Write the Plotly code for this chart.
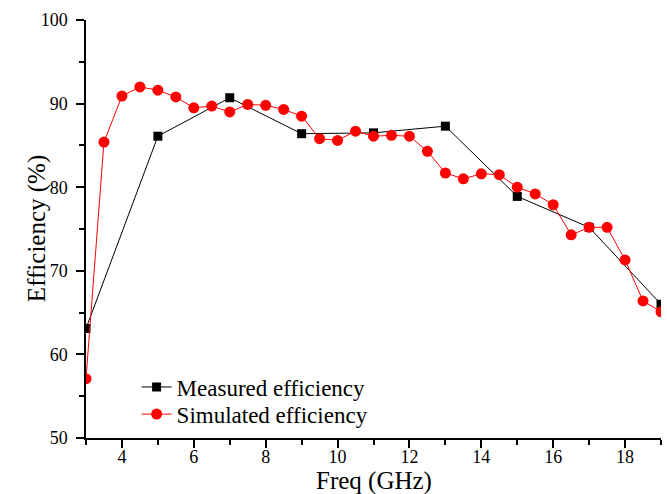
import plotly.graph_objects as go

meas_x = [3, 5, 7, 9, 11, 13, 15, 17, 19]
meas_y = [63.1, 86.1, 90.7, 86.4, 86.5, 87.3, 78.9, 75.2, 66.0]

sim_x = [3, 3.5, 4, 4.5, 5, 5.5, 6, 6.5, 7, 7.5, 8, 8.5, 9, 9.5, 10, 10.5, 11,
         11.5, 12, 12.5, 13, 13.5, 14, 14.5, 15, 15.5, 16, 16.5, 17, 17.5, 18, 18.5, 19]
sim_y = [57.1, 85.4, 90.9, 92.0, 91.6, 90.8, 89.5, 89.7, 89.0, 89.9, 89.8, 89.3, 88.5,
         85.8, 85.6, 86.7, 86.1, 86.2, 86.1, 84.3, 81.7, 81.0, 81.6, 81.5, 80.0, 79.2,
         77.9, 74.3, 75.2, 75.2, 71.3, 66.4, 65.1]

x_ticks = [4, 6, 8, 10, 12, 14, 16, 18]
y_ticks = [50, 60, 70, 80, 90, 100]

font = "Liberation Serif, Times New Roman, serif"

fig = go.Figure()
fig.add_trace(go.Scatter(x=meas_x, y=meas_y, mode="lines+markers",
                         name="Measured efficiency", legend="legend", showlegend=True,
                         line=dict(color="black", width=1),
                         marker=dict(symbol="square", size=9, color="black")))
fig.add_trace(go.Scatter(x=sim_x, y=sim_y, mode="lines+markers",
                         name="Simulated efficiency", legend="legend2", showlegend=True,
                         line=dict(color="red", width=1),
                         marker=dict(symbol="circle", size=11, color="red")))

axis_common = dict(showgrid=False, zeroline=False, showline=True, linecolor="black",
                   linewidth=1.5, ticks="outside", ticklen=8, tickwidth=1.5,
                   tickcolor="black", automargin=False,
                   tickfont=dict(family=font, size=18, color="black"))

fig.update_xaxes(range=[3, 19], tickvals=x_ticks, ticklabelstandoff=-6,
                 minor=dict(dtick=1, tick0=3, ticks="outside", ticklen=5, tickwidth=1.5,
                            tickcolor="black"),
                 **axis_common)
fig.update_yaxes(range=[50, 100], tickvals=y_ticks, ticklabelstandoff=5,
                 minor=dict(dtick=5, tick0=50, ticks="outside", ticklen=5, tickwidth=1.5,
                            tickcolor="black"),
                 **axis_common)

fig.add_annotation(text="Freq (GHz)", xref="paper", yref="paper", x=0.5, y=-0.103,
                   xanchor="center", yanchor="middle", showarrow=False,
                   font=dict(family=font, size=25, color="black"))
fig.add_annotation(text="Efficiency (%)", xref="paper", yref="paper", x=-0.085, y=0.5,
                   xanchor="center", yanchor="middle", showarrow=False, textangle=-90,
                   font=dict(family=font, size=25, color="black"))

leg_common = dict(x=0.088, xanchor="left", yanchor="middle", bgcolor="rgba(0,0,0,0)",
                  font=dict(family=font, size=23, color="black"), itemwidth=30)

fig.update_layout(width=667, height=494, plot_bgcolor="white", paper_bgcolor="white",
                  margin=dict(l=86, r=6, t=20, b=56), showlegend=True,
                  legend=dict(y=0.122, **leg_common),
                  legend2=dict(y=0.057, **leg_common),
                  )
fig.write_html("out.html")
